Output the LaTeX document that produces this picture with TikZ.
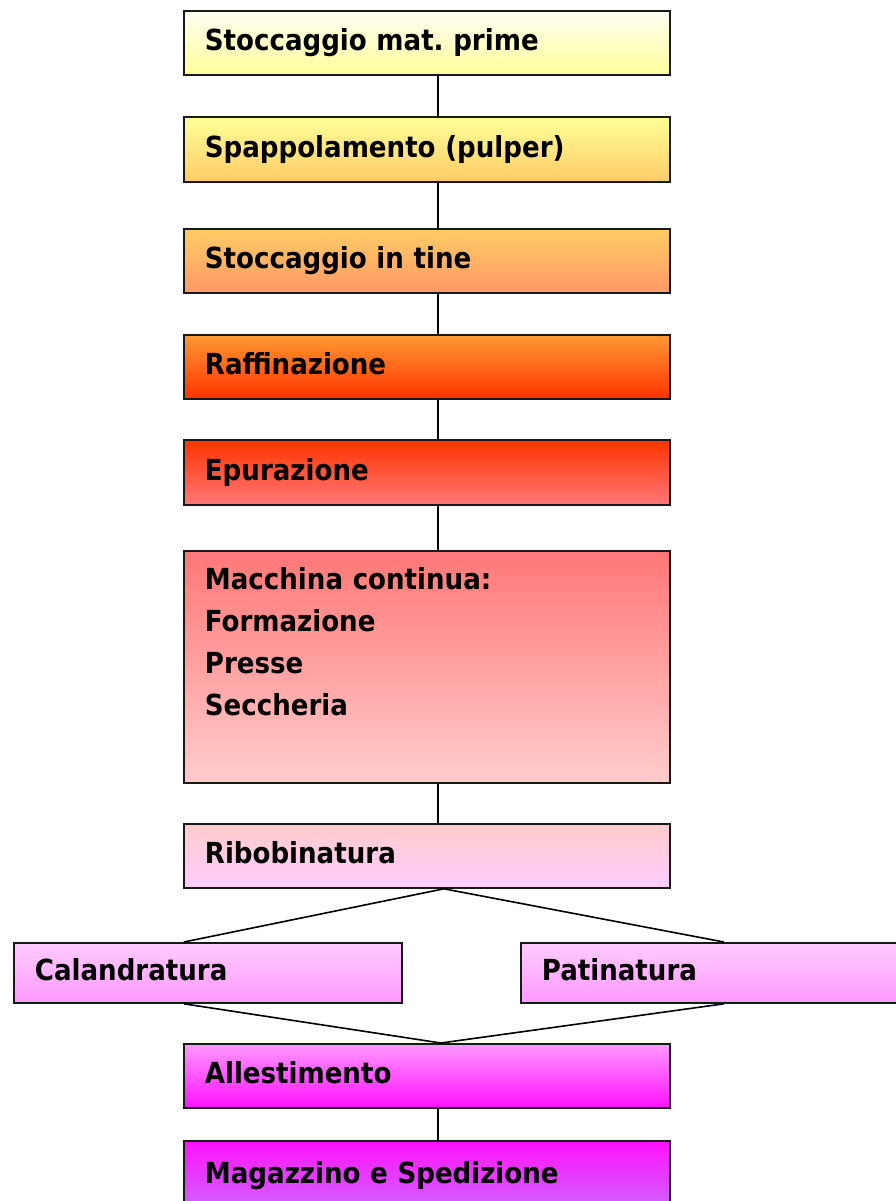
\documentclass[tikz,border=0pt]{standalone}
\usepackage{fontspec}
\setmainfont{DejaVu Sans Condensed}
\usepackage{xcolor}
\usetikzlibrary{positioning}

\definecolor{cYellowA}{HTML}{FFFFF4}
\definecolor{cYellowB}{HTML}{FFFF99}
\definecolor{cOrangeA}{HTML}{FFCC66}
\definecolor{cOrangeB}{HTML}{FF9966}
\definecolor{cOrangeC}{HTML}{FF9933}
\definecolor{cRed}{HTML}{FF3300}
\definecolor{cRose}{HTML}{FF7777}
\definecolor{cPinkA}{HTML}{FFCCCC}
\definecolor{cPinkB}{HTML}{FFCCFF}
\definecolor{cPinkC}{HTML}{FF99FF}
\definecolor{cMagenta}{HTML}{FF11FF}
\definecolor{cViolet}{HTML}{CC66FF}

\begin{document}
\begin{tikzpicture}[x=1pt,y=-1pt,
  box/.style={draw=black!90,line width=1.8pt,anchor=north west,align=left,
    inner xsep=21pt,text width=444pt,minimum height=64pt,
    text height=22pt,text depth=6pt,font=\fontsize{29}{42}\selectfont\bfseries},
  link/.style={line width=1.6pt}]

\useasboundingbox (0,0) rectangle (895,1201);

\node (stock) [box,top color=cYellowA,bottom color=cYellowB] at (183,10) {Stoccaggio mat.\ prime};
\node (pulper) [box,top color=cYellowB,bottom color=cOrangeA,minimum height=65pt] at (183,116) {Spappolamento (pulper)};
\node (tine) [box,top color=cOrangeA,bottom color=cOrangeB] at (183,228) {Stoccaggio in tine};
\node (raff) [box,top color=cOrangeC,bottom color=cRed] at (183,334) {Raffinazione};
\node (epur) [box,top color=cRed,bottom color=cRose,minimum height=65pt] at (183,439) {Epurazione};
\node (macch) [box,top color=cRose,bottom color=cPinkA,minimum height=232pt,text depth=177pt] at (183,550)
  {Macchina continua:\\Formazione\\Presse\\Seccheria};
\node (ribo) [box,top color=cPinkA,bottom color=cPinkB] at (183,823) {Ribobinatura};

\node (cal) [box,top color=cPinkB,bottom color=cPinkC,minimum height=60pt,text width=346pt] at (13,942) {Calandratura};
\node (pat) [box,top color=cPinkB,bottom color=cPinkC,minimum height=60pt,text width=358pt] at (520,942) {Patinatura};

\node (alles) [box,top color=cPinkC,bottom color=cMagenta] at (183,1043) {Allestimento};
\node (magaz) [box,top color=cMagenta,bottom color=cViolet,minimum height=70pt] at (183,1140) {Magazzino e Spedizione};

\foreach \a/\b in {stock/pulper,pulper/tine,tine/raff,raff/epur,epur/macch,macch/ribo,alles/magaz}
  \draw[link] ([xshift=11pt]\a.south) -- ([xshift=11pt]\b.north);

\draw[link] ([xshift=-24pt]cal.north) -- ([xshift=17pt]ribo.south) -- ([xshift=3pt]pat.north);
\draw[link] ([xshift=-24pt]cal.south) -- ([xshift=14pt]alles.north) -- ([xshift=3pt]pat.south);

\end{tikzpicture}
\end{document}
